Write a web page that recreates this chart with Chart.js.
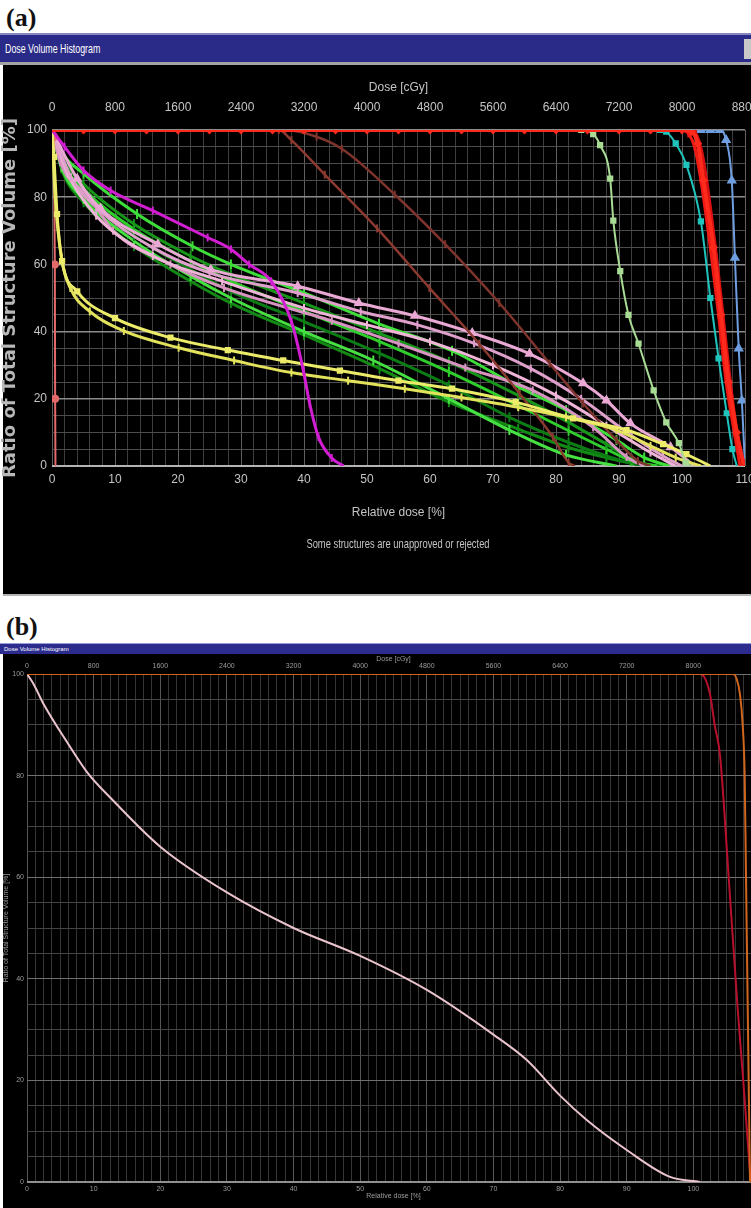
<!DOCTYPE html>
<html>
<head>
<meta charset="utf-8">
<script src="https://cdn.jsdelivr.net/npm/chart.js@4.4.0/dist/chart.umd.min.js"></script>
<style>
  html, body { margin: 0; padding: 0; background: #fff; }
  body { position: relative; width: 751px; height: 1208px; overflow: hidden; }
  .lab { position: absolute; left: 6px; font: bold 26px 'Liberation Serif', 'Times New Roman', serif; color: #111; }
  .bar { position: absolute; left: 0; width: 751px; box-sizing: border-box; background: #2a2a88; color: #fff;
         font-family: 'Liberation Sans', Arial, sans-serif; white-space: nowrap; overflow: hidden; }
  .bar span { display: inline-block; transform-origin: 0 50%; }
  .panel { position: absolute; left: 3px; width: 748px; background: #000; }
  canvas { position: absolute; left: 0; }
  .note { position: absolute; left: 248px; width: 300px; text-align: center; color: #c4c4c4;
          font: 13px 'Liberation Sans', Arial, sans-serif; transform: scaleX(0.72); }
</style>
</head>
<body>
<div class="lab" style="top:3px">(a)</div>
<div class="bar" style="top:33px;height:32px;border-top:2px solid #8686c0;border-bottom:3px solid #a4a4a4;font-size:13px;line-height:27px;padding-left:5px"><span style="transform:scaleX(0.68)">Dose Volume Histogram</span></div>
<div style="position:absolute;left:744px;top:39px;width:7px;height:20px;background:#c8c8c8"></div>
<div class="panel" style="top:65px;height:529px"></div>
<div style="position:absolute;left:3px;top:594px;width:748px;height:2px;background:#b4b4b4"></div>
<canvas id="dvhA" width="751" height="530" style="top:64px"></canvas>
<div class="note" style="top:536px">Some structures are unapproved or rejected</div>

<div class="lab" style="top:612px">(b)</div>
<div class="bar" style="top:643px;height:11px;border-top:1px solid #9a9ad8;background:#2c2c8e;font-size:6px;line-height:10px;padding-left:4px"><span>Dose Volume Histogram</span></div>
<div class="panel" style="top:654px;height:554px"></div>
<canvas id="dvhB" width="770" height="554" style="top:654px"></canvas>

<script>
// axis tick labels
const relDoseTicks = [0, 10, 20, 30, 40, 50, 60, 70, 80, 90, 100, 110];
const doseTicks = [0, 800, 1600, 2400, 3200, 4000, 4800, 5600, 6400, 7200, 8000, 8800];
const volumeTicks = [0, 20, 40, 60, 80, 100];

// (a) curves: [relative dose %, volume %]
const redTopA = [[0,100],[5,100],[10,100],[15,100],[20,100],[25,100],[30,100],[35,100],[40,100],[45,100],[50,100],
  [55,100],[60,100],[65,100],[70,100],[75,100],[80,100],[85,100],[90,100],[95,100],[100,100],
  [101.5,99.5],[102.5,96],[103.4,85],[105,65],[106.2,45],[107.4,25],[108.7,10],[109.8,0]];
const redA2 = [[0,100],[100,100],[101,99],[102,95],[103,85],[104.5,65],[105.8,45],[107,25],[108.3,10],[109.2,0]];
const redA3 = [[0,100],[101,100],[102.2,99],[103.2,93],[104,84],[105.5,62],[106.8,40],[108,20],[109,7],[110,0]];
const blueA = [[0,100],[103,100],[104.5,100],[106,100],[107,97],[107.9,85],[108.4,62],[109,35],[109.5,19.5],[110,0]];
const cyanA = [[0,100],[96.5,100],[97.5,99.5],[99,96],[100.7,89.6],[103,72.8],[104.5,50],[105.8,32],[107.1,15.7],[108,5],[108.7,0]];
const paleGreenA = [[0,100],[84,100],[85.9,98.8],[87,95.5],[88.6,85.5],[89.1,73],[90.2,58],[91.5,45],[93.1,36.4],
  [95.5,22.5],[97.5,13],[99.5,6.8],[100.6,1],[101.5,0]];
const brownA1 = [[0,100],[36,100],[38,97],[43.3,86.7],[51.6,70.7],[59.9,53],[67.8,36.4],[74.2,21.6],[79.5,8.6],[82,1],[83,0]];
const brownA2 = [[0,100],[37,100],[42,98],[46,94.4],[54.4,80.8],[62.4,66],[71,48.5],[79,30.5],[84.3,18.6],[89.6,7.7],[93,1.5],[95,0]];
const magentaA = [[0,100],[2,95],[5,88],[9.3,82],[16,76],[24.7,68],[28.4,64.5],[31.3,60],[34.8,55],[38,43],[39.9,28.4],
  [40.9,18.6],[42.3,8.6],[44.4,2.4],[46.3,0]];
const yellowA1 = [[0,100],[0.3,92],[0.8,75],[1.6,61],[4,52],[10,44],[18.8,38.2],[27.9,34.5],[36.7,31.4],[45.7,28.4],
  [55,25.4],[63.5,23],[73.6,19],[82.7,14.2],[91.2,10.7],[97,6.5],[100.7,3.5],[104.5,0]];
const yellowA2 = [[0,100],[0.5,80],[1.5,62],[2.9,53],[6,46],[11.4,40.2],[20.1,35.2],[28.9,31.4],[38,27.8],[47,25.4],
  [56,23],[65,20.4],[74,17.5],[81.6,14.5],[89.6,10.7],[95,6],[99,2.5],[103,0]];
const salmonA = [[0,100],[0.3,98],[0.45,60],[0.5,20],[0.55,0]];
const pinkA1 = [[0,100],[4,85.5],[7.7,76.6],[16.8,66],[25.2,58.5],[39,53.5],[48.7,48.5],[57.6,44.7],[66.7,39.6],
  [75.8,33.4],[84.3,24.6],[88,19.5],[91.8,12.7],[98.2,5.6],[102,0]];
const pinkA2 = [[0,100],[3,86],[7,77],[16,65],[25,57.5],[39,51.5],[49,46],[58,42],[67,36.5],[76,29],[84,20],[92,9],[97,3],[100,0]];
const pinkA3 = [[0,100],[2.5,87],[7,74.5],[16,62.5],[27,55],[40,47],[50,42],[60,37],[70,30],[80,21],[88,12],[95,4],[99,0]];
const pinkA4 = [[0,100],[1.3,90.5],[6.1,79.6],[9.7,70],[18.8,60],[27.3,53],[44.4,43.2],[55,36.4],[65.6,29.3],
  [76.3,22.5],[85.9,11.5],[91.2,2.7],[94,0]];
const greenA1 = [[0,100],[1.3,94],[5,87],[13.5,75],[22.3,65.4],[28.4,60],[40,51.5],[51.9,42.3],[63.5,34.3],[74.2,23.4],
  [81.6,16.6],[89.6,7.7],[94,2.5],[98,0]];
const greenA2 = [[0,100],[1.5,92],[5,84],[13,72],[22,62.5],[28.4,57],[40,48.5],[52,39.5],[63,31],[74,21],[82,13],[88,6.5],[92,2],[95,0]];
const greenA3 = [[0,100],[1.5,91],[5,82.5],[13,70.5],[22,61],[28.4,55],[40,46],[52,37],[63,28],[74,18],[82,10.5],[88,5],[92,1.5],[96,0]];
const greenA4 = [[0,100],[1.5,90],[5,81],[13,68.5],[22,58.5],[28.4,52],[40,43],[52,33.5],[63,24],[72.6,14.5],[82,7],[88,3],[92,0.8],[94,0]];
const greenA5 = [[0,100],[1.5,89],[5,79.5],[13,67],[22,56.5],[28.4,50],[40,40],[51,31.4],[63,20],[72.6,10.7],[81.6,3.3],[89.6,0]];
const greenA6 = [[0,100],[1.5,88.5],[5,78.5],[13,65.5],[22,55],[28.4,48.5],[40,39],[52,29],[63,19],[74,11],[82,5.5],[88,2.5],[93,0.5],[97,0]];

// (b) curves
const orangeB = [[0,100],[106,100],[106.5,99],[107,96],[107.4,90],[107.7,80],[107.9,60],[108.1,40],[108.3,20],[108.5,0]];
const redB = [[0,100],[101,100],[101.8,99],[102.5,96],[103.2,90],[104,84],[105.3,60],[106.6,35],[107.6,18],[108.6,0]];
const pinkB = [[0,100],[1,98],[2.4,94.3],[6,86.6],[9,80.7],[12.7,75.4],[20,66],[30,57],[40,50],[50,44.5],[60,37.8],
  [70,29],[75,24],[80,17],[84,12.2],[90,6.3],[96.5,1],[101,0]];

const SANS = "'Liberation Sans', Arial, sans-serif";

function curve(pts, color, width, marker, size) {
  return {
    data: pts.map(p => ({ x: p[0], y: p[1] })),
    showLine: true,
    borderColor: color,
    backgroundColor: color,
    borderWidth: width,
    cubicInterpolationMode: 'monotone',
    pointStyle: marker || 'line',
    pointRotation: marker ? 0 : 90,
    pointRadius: c => (size && c.dataIndex > 0 && c.dataIndex < pts.length - 1) ? size : 0,
    pointBorderWidth: 2,
    pointBorderColor: color,
    pointBackgroundColor: color
  };
}

function lockBox(size, horizontal) {
  return s => {
    if (horizontal) s.height = size; else s.width = size;
    s.paddingLeft = 0; s.paddingRight = 0; s.paddingTop = 0; s.paddingBottom = 0;
  };
}

function dvhOptions(o) {
  const tickFont = { family: SANS, size: o.font };
  return {
    responsive: false,
    animation: false,
    events: [],
    layout: { padding: { left: 0, top: 0, right: o.padRight, bottom: o.padBottom } },
    plugins: { legend: { display: false }, tooltip: { enabled: false } },
    scales: {
      x: {
        type: 'linear', position: 'bottom', min: 0, max: 110,
        ticks: { stepSize: o.xStep, autoSkip: false, maxRotation: 0, minRotation: 0, padding: o.bottomPad,
                 color: o.textColor, font: tickFont, callback: v => relDoseTicks.includes(v) ? v : '' },
        grid: { drawTicks: false, color: c => relDoseTicks.includes(c.tick.value) ? o.xMajor : o.xMinor },
        border: { display: false },
        title: { display: true, text: 'Relative dose [%]', color: o.textColor, font: tickFont,
                 padding: { top: 0, bottom: o.bottomTitlePad } },
        afterFit: lockBox(o.bottomH, true)
      },
      x2: {
        type: 'linear', position: 'top', min: 0, max: 8800,
        ticks: { stepSize: 800, autoSkip: false, maxRotation: 0, minRotation: 0, padding: o.topPad,
                 color: o.textColor, font: tickFont, callback: v => doseTicks.includes(v) ? v : '' },
        grid: { display: false, drawTicks: false },
        border: { display: false },
        title: { display: true, text: 'Dose [cGy]', color: o.textColor, font: tickFont,
                 padding: { top: o.topTitlePad, bottom: 0 } },
        afterFit: lockBox(o.topH, true)
      },
      y: {
        type: 'linear', min: 0, max: 100,
        ticks: { stepSize: 5, autoSkip: false, padding: o.leftPad, color: o.textColor, font: tickFont,
                 callback: v => volumeTicks.includes(v) ? v : '' },
        grid: {
          drawTicks: false,
          color: c => c.tick.value === 0 ? o.yZero : (volumeTicks.includes(c.tick.value) ? o.yMajor : o.yMinor),
          lineWidth: c => c.tick.value === 0 ? 2 : (volumeTicks.includes(c.tick.value) ? o.yMajorW : 1)
        },
        border: { display: false },
        title: { display: true, text: 'Ratio of Total Structure Volume [%]', color: o.yTitleColor,
                 font: o.yTitleFont, padding: { top: o.yTitlePad, bottom: 0 } },
        afterFit: lockBox(o.leftW, false)
      }
    }
  };
}

new Chart(document.getElementById('dvhA'), {
  type: 'scatter',
  data: {
    datasets: [
      curve(redTopA, '#ff2a1c', 4, 'rectRot', 3),
      curve(redA2, '#f01a14', 3, null, 4),
      curve(redA3, '#d81010', 3, null, 4),
      curve(blueA, '#6e9ee0', 2, 'triangle', 4),
      curve(cyanA, '#1fc4bc', 2, 'rect', 3),
      curve(paleGreenA, '#a8dc94', 2, 'rect', 3),
      curve(magentaA, '#d21ed2', 3, null, 4),
      curve(yellowA1, '#ecec6a', 3, 'rect', 3),
      curve(yellowA2, '#e2e25c', 3, null, 4),
      curve(salmonA, '#e46a6a', 2, 'circle', 3),
      curve(brownA1, '#8c3a30', 2.5, null, 4),
      curve(brownA2, '#7e342c', 2.5, null, 4),
      curve(pinkA1, '#eaa8d4', 3, 'triangle', 4),
      curve(pinkA2, '#e0a0cc', 3, null, 4),
      curve(pinkA3, '#f0b4d8', 3, null, 4),
      curve(pinkA4, '#d894c0', 3, null, 4),
      curve(greenA1, '#3ede3a', 3, null, 5),
      curve(greenA2, '#17961a', 3, null, 5),
      curve(greenA3, '#2fce2c', 3, null, 5),
      curve(greenA4, '#0c7c14', 3, null, 5),
      curve(greenA5, '#46e042', 3, null, 5),
      curve(greenA6, '#128a14', 3, null, 5)
    ]
  },
  options: dvhOptions({
    font: 12, textColor: '#c4c4c4', xStep: 2,
    padRight: 6, padBottom: 68,
    topH: 66, topPad: 15, topTitlePad: 16,
    bottomH: 60, bottomPad: 6, bottomTitlePad: 6,
    leftW: 52, leftPad: 5,
    xMajor: '#606060', xMinor: '#3e3e3e',
    yZero: '#b4b4b4', yMajor: '#8c8c8c', yMinor: '#4c4c4c', yMajorW: 1.5,
    yTitleColor: '#b8b8b8', yTitleFont: { family: "'DejaVu Sans', sans-serif", size: 18, weight: 'bold' }, yTitlePad: 0
  })
});

new Chart(document.getElementById('dvhB'), {
  type: 'scatter',
  data: {
    datasets: [
      curve(orangeB, '#d0661e', 2),
      curve(redB, '#b8102c', 2),
      curve(pinkB, '#eac4cc', 2)
    ]
  },
  options: dvhOptions({
    font: 7, textColor: '#9c9c9c', xStep: 1.25,
    padRight: 10, padBottom: 0,
    topH: 20, topPad: 4, topTitlePad: 1,
    bottomH: 26, bottomPad: 3, bottomTitlePad: 8,
    leftW: 27, leftPad: 3,
    xMajor: '#565656', xMinor: '#363636',
    yZero: '#909090', yMajor: '#707070', yMinor: '#454545', yMajorW: 1,
    yTitleColor: '#9c9c9c', yTitleFont: { family: SANS, size: 7 }, yTitlePad: 2
  })
});
</script>
</body>
</html>
